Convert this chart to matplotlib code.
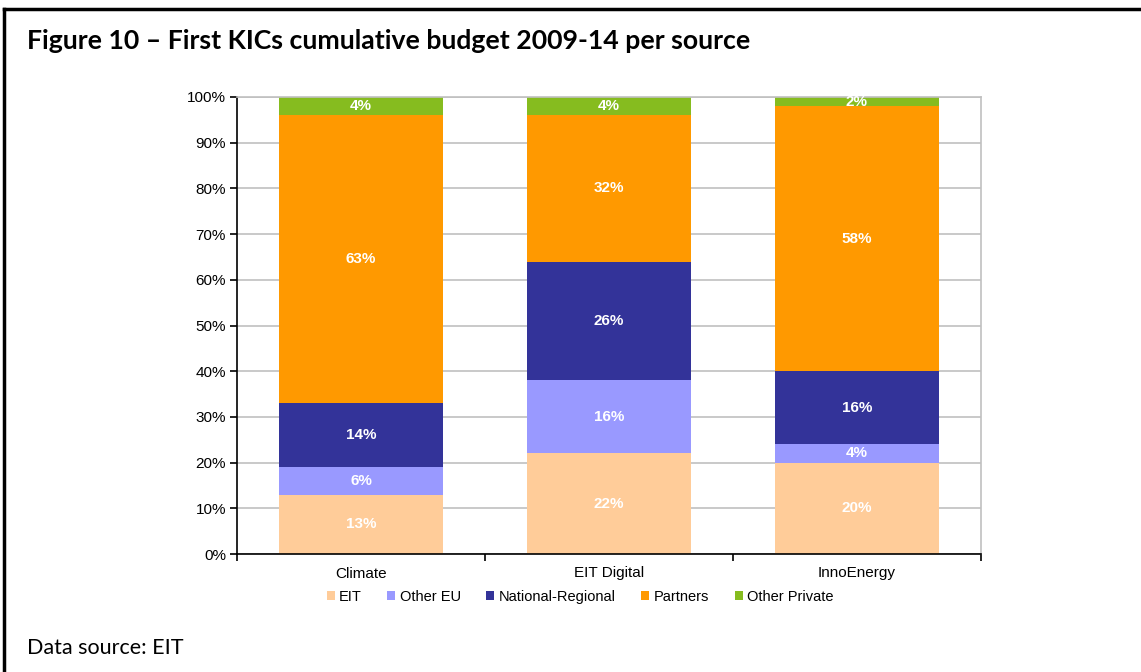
import matplotlib.pyplot as plt
import numpy as np
from matplotlib.lines import Line2D

kics = ['Climate', 'EIT Digital', 'InnoEnergy']
sources = ['EIT', 'Other EU', 'National-Regional', 'Partners', 'Other Private']
eit = [13, 22, 20]
other_eu = [6, 16, 4]
national = [14, 26, 16]
partners = [63, 32, 58]
other_private = [4, 4, 2]
colors = ['#FFCC99', '#9999FF', '#333399', '#FF9900', '#86BC1F']

plt.rcParams['font.family'] = ['Liberation Sans', 'DejaVu Sans']

fig = plt.figure(figsize=(11.41, 6.72), dpi=100)
ax = fig.add_axes([237/1141, 1-554/672, (981-237)/1141, (554-97)/672])

x = np.arange(len(kics))
bottom = np.zeros(len(kics))
for name, vals, c in zip(sources, [eit, other_eu, national, partners, other_private], colors):
    vals = np.array(vals, dtype=float)
    ax.bar(x, vals, 0.665, bottom=bottom, color=c, label=name, zorder=2)
    for xi, b, v in zip(x, bottom, vals):
        ax.text(xi, b + v/2, f'{int(v)}%', ha='center', va='center', color='white',
                fontsize=11, fontweight='bold', zorder=3)
    bottom += vals

ax.set_xlim(-0.5, 2.5)
ax.set_ylim(0, 100)
ax.set_yticks(np.arange(0, 101, 10))
ax.set_yticklabels([f'{t}%' for t in range(0, 101, 10)], fontsize=11)
ax.yaxis.grid(True, color='#C0C0C0', linewidth=1.2, zorder=0)
ax.set_axisbelow(True)
ax.set_xticks([-0.5, 0.5, 1.5, 2.5])
ax.set_xticklabels([])
ax.set_xticks(x, minor=True)
ax.set_xticklabels(kics, minor=True, fontsize=11)
ax.tick_params(axis='x', which='minor', length=0, pad=9)
ax.tick_params(axis='x', which='major', length=5, width=1.2, direction='out')
ax.tick_params(axis='y', length=5, width=1.2, direction='out', pad=3)
for s in ['left', 'bottom']:
    ax.spines[s].set_color('black')
    ax.spines[s].set_linewidth(1.2)
ax.spines['top'].set_color('#C0C0C0')
ax.spines['right'].set_color('#C0C0C0')
ax.spines['right'].set_linewidth(1.2)
ax.spines['top'].set_linewidth(1.2)

fig.legend(loc='center', bbox_to_anchor=(580/1141, 1-597/672), ncol=5, frameon=False,
           fontsize=10.5, handlelength=0.55, handleheight=0.55, handletextpad=0.3,
           columnspacing=1.75)

fig.text(27/1141, 1-41/672, 'Figure 10 \u2013 First KICs cumulative budget 2009-14 per source',
         fontsize=19.2, fontweight='bold', family=['Lato', 'DejaVu Sans'], va='center', ha='left')
fig.text(27/1141, 1-648/672, 'Data source: EIT', fontsize=15.5, family=['Lato', 'DejaVu Sans'],
         va='center', ha='left')

fig.add_artist(Line2D([4/1141, 4/1141], [0, 1-9/672], color='black', linewidth=2.5, transform=fig.transFigure))
fig.add_artist(Line2D([4/1141, 1], [1-9/672, 1-9/672], color='black', linewidth=2.5, transform=fig.transFigure))

fig.savefig('out.png', dpi=100)
